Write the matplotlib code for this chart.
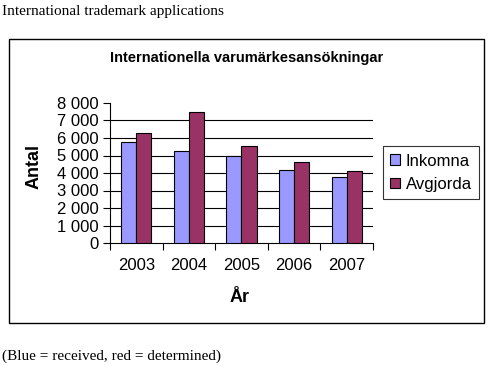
import matplotlib
matplotlib.use("Agg")
import matplotlib.pyplot as plt
from matplotlib.patches import Rectangle, Patch
import numpy as np

years = ["2003", "2004", "2005", "2006", "2007"]
received = [5750, 5240, 4950, 4150, 3750]
determined = [6270, 7470, 5520, 4630, 4100]
series_names = ["Inkomna", "Avgjorda"]
y_ticks = [0, 1000, 2000, 3000, 4000, 5000, 6000, 7000, 8000]

W, H = 489, 366
fig = plt.figure(figsize=(W / 100, H / 100), dpi=100)
fig.patch.set_facecolor("white")


def fx(px):
    return px / W


def fy(py):
    return 1 - py / H


sans = "Liberation Sans"
serif = "Liberation Serif"

# outer chart frame
fig.patches.append(Rectangle((fx(9), fy(323)), fx(484) - fx(9), fy(39) - fy(323),
                             transform=fig.transFigure, fill=False,
                             edgecolor="black", linewidth=1.0))

fig.text(fx(2), fy(12), "International trademark applications", family=serif,
         fontsize=11, va="center", ha="left")
fig.text(fx(2), fy(356), "(Blue = received, red = determined)", family=serif,
         fontsize=11, va="center", ha="left")
fig.text(fx(247), fy(58), "Internationella varumärkesansökningar", family=sans,
         fontsize=10.5, fontweight="bold", ha="center", va="center")

ax = fig.add_axes([fx(110), fy(243), fx(373) - fx(110), fy(103) - fy(243)])
x = np.arange(len(years))
w = 0.287
ax.bar(x - w / 2, received, w, color="#9999FF", edgecolor="black", linewidth=0.8,
       zorder=3)
ax.bar(x + w / 2, determined, w, color="#993366", edgecolor="black", linewidth=0.8,
       zorder=3)

ax.set_xlim(-0.5, len(years) - 0.5)
ax.set_ylim(0, 8000)
for v in y_ticks[1:-1]:
    ax.axhline(v, color="black", linewidth=0.8, zorder=1)

ax.set_yticks(y_ticks)
ax.set_yticklabels([f"{v:,}".replace(",", " ") for v in y_ticks], family=sans,
                   fontsize=12)
ax.set_xticks(x)
ax.set_xticklabels(years, family=sans, fontsize=12)
ax.tick_params(axis="x", length=0, pad=11)
ax.set_xticks(np.arange(len(years) + 1) - 0.5, minor=True)
ax.tick_params(axis="x", which="minor", length=5, width=0.8)
ax.tick_params(axis="y", length=5, width=0.8, pad=3)
for side in ("top", "right"):
    ax.spines[side].set_visible(False)
for side in ("left", "bottom"):
    ax.spines[side].set_linewidth(0.8)

fig.text(fx(34), fy(166), "Antal", family=sans, fontsize=13, fontweight="bold",
         rotation=90, ha="center", va="center")
fig.text(fx(240), fy(298), "År", family=sans, fontsize=13, fontweight="bold",
         ha="center", va="center")

handles = [Patch(facecolor="#9999FF", edgecolor="black", linewidth=0.8),
           Patch(facecolor="#993366", edgecolor="black", linewidth=0.8)]
leg = fig.legend(handles, series_names, loc="upper left",
                 bbox_to_anchor=(fx(383), fy(146)), frameon=True, fancybox=False,
                 prop={"family": sans, "size": 12}, handlelength=0.6,
                 handleheight=0.6, handletextpad=0.3, borderpad=0.45,
                 labelspacing=0.5, borderaxespad=0)
leg.get_frame().set_edgecolor("black")
leg.get_frame().set_linewidth(0.8)

fig.savefig("out.png", dpi=100)
